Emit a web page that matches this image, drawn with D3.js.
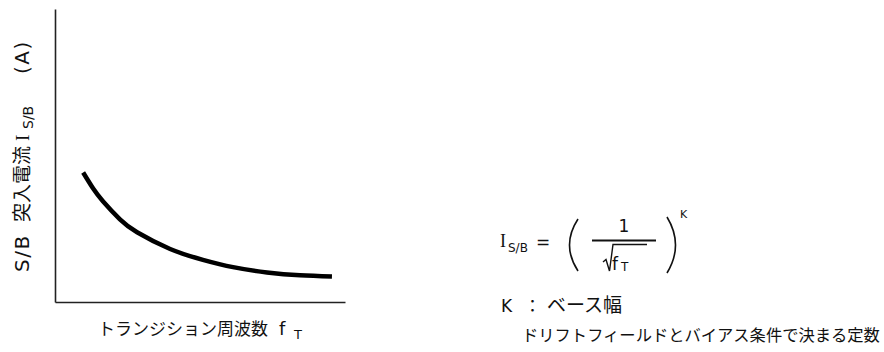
<!DOCTYPE html>
<html>
<head>
<meta charset="utf-8">
<script src="https://cdn.jsdelivr.net/npm/d3@7"></script>
<style>
  body { margin: 0; background: #fff; }
  text { font-family: "Noto Sans CJK JP", "Noto Sans", sans-serif; fill: #111; }
  .lat { font-family: "DejaVu Sans", sans-serif; }
  .serif { font-family: "Liberation Serif", "DejaVu Serif", serif; }
</style>
</head>
<body>
<svg id="chart" width="884" height="352"></svg>
<script>
// 曲線のデータ（図から読み取った値、軸は 0〜10 の任意単位）
const fT = [0.97, 1.31, 1.66, 2.24, 2.83, 3.97, 5.10, 6.14, 7.31, 8.45, 9.55];
const iSB = [4.42, 3.88, 3.43, 2.82, 2.38, 1.81, 1.44, 1.19, 1.01, 0.91, 0.87];

const xLabel = 'トランジション周波数';
const yLabel = '突入電流';
const noteK = 'ベース幅';
const noteConst = 'ドリフトフィールドとバイアス条件で決まる定数';

const svg = d3.select('#chart');

const x = d3.scaleLinear().domain([0, 10]).range([55, 345]);
const y = d3.scaleLinear().domain([0, 10]).range([302, 9]);

// 軸（目盛りなし）
svg.append('g')
    .attr('transform', 'translate(55,0)')
    .call(d3.axisLeft(y).tickValues([]).tickSizeOuter(0))
    .select('.domain').attr('stroke', '#222').attr('stroke-width', 1.6);

svg.append('g')
    .attr('transform', 'translate(0,302)')
    .call(d3.axisBottom(x).tickValues([]).tickSizeOuter(0))
    .select('.domain').attr('stroke', '#222').attr('stroke-width', 1.6);

// 曲線
const line = d3.line()
    .x((d, i) => x(fT[i]))
    .y(d => y(d))
    .curve(d3.curveNatural);

svg.append('path')
    .datum(iSB)
    .attr('d', line)
    .attr('fill', 'none')
    .attr('stroke', '#000')
    .attr('stroke-width', 4.5);

// X 軸ラベル
svg.append('text').attr('x', 98).attr('y', 335).style('font-size', '17px').text(xLabel);
svg.append('text').attr('class', 'lat').attr('x', 279).attr('y', 335).style('font-size', '18px').text('f');
svg.append('text').attr('class', 'lat').attr('x', 294).attr('y', 339).style('font-size', '13px').text('T');

// Y 軸ラベル（回転）
const yl = svg.append('g').attr('transform', 'translate(29,272) rotate(-90)');
yl.append('text').attr('class', 'lat').attr('x', 0).style('font-size', '20px')
    .style('letter-spacing', '1.5px').text('S/B');
yl.append('text').attr('x', 50).style('font-size', '19px').text(yLabel);
yl.append('text').attr('class', 'serif').attr('x', 131).style('font-size', '19px').text('I');
yl.append('text').attr('class', 'lat').attr('x', 143).attr('y', 4).style('font-size', '14px').text('S/B');
yl.append('text').attr('class', 'lat').attr('x', 198).style('font-size', '20px')
    .style('letter-spacing', '1.5px').text('(A)');

// 式 I_S/B = ( 1 / √f_T )^K
const f = svg.append('g');
f.append('text').attr('class', 'serif').attr('x', 500).attr('y', 247).style('font-size', '18px').text('I');
f.append('text').attr('class', 'lat').attr('x', 508).attr('y', 252).style('font-size', '12px').text('S/B');
f.append('text').attr('class', 'lat').attr('x', 536).attr('y', 248).style('font-size', '17px').text('=');

f.append('path')
    .attr('d', 'M578,219 Q561,245 578,271')
    .attr('fill', 'none').attr('stroke', '#111').attr('stroke-width', 1.6);
f.append('path')
    .attr('d', 'M667,217 Q684,245 667,273')
    .attr('fill', 'none').attr('stroke', '#111').attr('stroke-width', 1.6);

f.append('text').attr('class', 'lat').attr('x', 624).attr('y', 232)
    .attr('text-anchor', 'middle').style('font-size', '17px').text('1');
f.append('line')
    .attr('x1', 592).attr('x2', 656).attr('y1', 240.5).attr('y2', 240.5)
    .attr('stroke', '#111').attr('stroke-width', 2);
f.append('path')
    .attr('d', 'M603,262 L606,259.5 L609.5,271 L613,244.5 L647,244.5')
    .attr('fill', 'none').attr('stroke', '#111').attr('stroke-width', 1.4);
f.append('text').attr('class', 'lat').attr('x', 612).attr('y', 270).style('font-size', '17px').text('f');
f.append('text').attr('class', 'lat').attr('x', 621).attr('y', 271).style('font-size', '12px').text('T');

f.append('text').attr('class', 'lat').attr('x', 680).attr('y', 218).style('font-size', '11px').text('K');

// 注記
svg.append('text').attr('class', 'lat').attr('x', 501).attr('y', 312).style('font-size', '17px').text('K');
svg.append('text').attr('x', 524).attr('y', 312).style('font-size', '17px').text('：');
svg.append('text').attr('x', 547).attr('y', 312).style('font-size', '19px').text(noteK);
svg.append('text').attr('x', 522).attr('y', 341).style('font-size', '16.3px').text(noteConst);
</script>
</body>
</html>
